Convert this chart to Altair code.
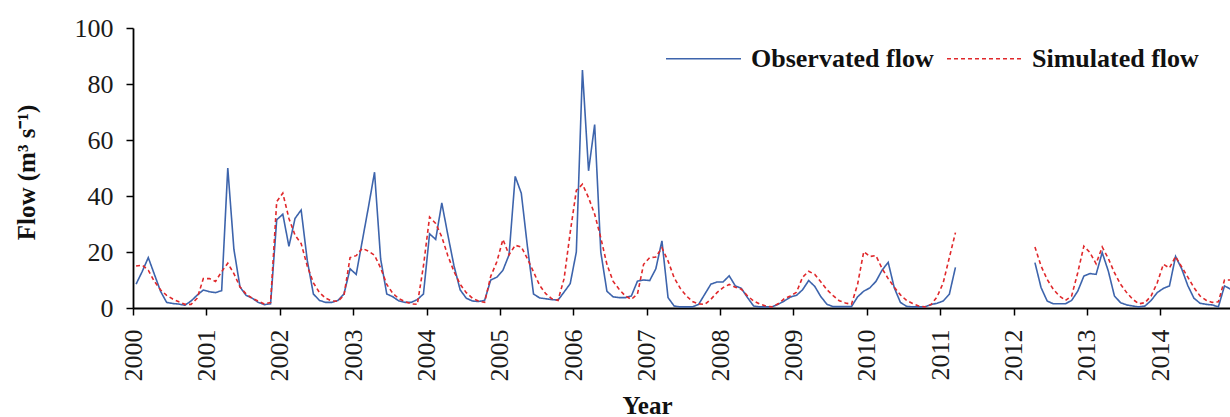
import altair as alt
import pandas as pd

# ---- data (monthly) ----
years = list(range(2000, 2015))
tick_years = years

obs_2000 = [8.5, 13, 18, 12, 6, 2, 1.6, 1.4, 1, 2.5, 4.6, 6.4]
obs_2001 = [5.8, 5.5, 6.2, 50, 21, 7.5, 4.5, 3.5, 2, 1.2, 1.5, 31.5]
obs_2002 = [33.5, 22, 32, 35, 17, 5, 2.7, 2, 2, 2.7, 5, 14]
obs_2003 = [12, 24, 36, 48.5, 17.5, 5, 4, 2.5, 2, 2, 3, 5]
obs_2004 = [26.5, 24.5, 37.5, 26, 15, 6.5, 3.5, 2.5, 2.3, 2.7, 10, 11]
obs_2005 = [13.5, 19, 47, 41, 22, 5, 3.6, 3.3, 3, 2.8, 5.7, 8.7]
obs_2006 = [20, 85, 49, 65.5, 20, 6, 4, 3.7, 3.7, 4.3, 9.6, 10]
obs_2007 = [9.8, 14, 24, 3.7, 0.7, 0.4, 0.4, 0.4, 1.3, 4.9, 8.5, 9.3]
obs_2008 = [9.3, 11.5, 7.9, 7, 3.7, 0.7, 0.4, 0.4, 0.4, 1.3, 2.5, 3.9]
obs_2009 = [4.5, 6.5, 9.8, 7.7, 4, 1.3, 0.5, 0.5, 0.5, 0.5, 4, 6]
obs_2010 = [7.2, 9.5, 13.5, 16.3, 7.2, 2, 0.6, 0.4, 0.4, 0.4, 1.2, 1.7]
obs_2011 = [2.5, 4.9, 14.5, None, None, None, None, None, None, None, None, None]
obs_2012 = [None, None, None, 16.2, 7.3, 2.5, 1.5, 1.5, 1.5, 2.7, 6, 11.4]
obs_2013 = [12.3, 12, 19.8, 13.2, 4.3, 1.9, 1.1, 0.7, 0.4, 0.7, 2.7, 5.5]
obs_2014 = [7, 7.9, 18.4, 14, 8, 3.5, 1.7, 1.3, 1.1, 0.4, 7.9, 6.7]

sim_2000 = [15, 15.3, 13.5, 9.5, 6.5, 4.5, 3.2, 2.2, 1.3, 1.3, 3.5, 10.5]
sim_2001 = [10.5, 9.5, 13, 16, 12.3, 7.5, 5, 3.5, 2.4, 1.4, 2, 38]
sim_2002 = [41, 32, 26, 23, 15, 9, 5.5, 3.5, 2.5, 2.4, 4.5, 18]
sim_2003 = [18.7, 21.3, 20.3, 18.8, 14.3, 8.4, 5.2, 3.3, 2.3, 1.5, 1.3, 15]
sim_2004 = [32.5, 30.2, 25.4, 18.6, 13, 8.5, 5.5, 3.5, 2.5, 2, 11.3, 16.5]
sim_2005 = [24.5, 19, 22.4, 21.8, 17.6, 12.9, 8.1, 5.1, 3.3, 2.7, 10.5, 27]
sim_2006 = [42, 44.2, 39.4, 33.5, 25.1, 15.6, 9.6, 6.7, 4.3, 3.1, 5, 15.6]
sim_2007 = [18, 18.2, 21.5, 16.8, 10.8, 7, 4.3, 2.3, 1.5, 1.3, 3.1, 5.5]
sim_2008 = [7.3, 8.4, 7.4, 6.7, 4.3, 2.5, 1.4, 0.7, 0.4, 1.5, 3.3, 4.3]
sim_2009 = [5.6, 11, 13.1, 12, 9.3, 6.5, 4.4, 2.6, 1.8, 1.3, 8.5, 20.1]
sim_2010 = [18.4, 18.7, 14.1, 10.5, 7.4, 4.7, 2.7, 1.6, 0.7, 0.4, 1.2, 4]
sim_2011 = [9, 18, 26.9, None, None, None, None, None, None, None, None, None]
sim_2012 = [None, None, None, 21.8, 15, 10.2, 6.7, 4.3, 2.7, 4.3, 12.6, 22.1]
sim_2013 = [19.8, 15.8, 21.8, 17.7, 12.6, 8.5, 5.5, 3.1, 1.5, 1.9, 4.3, 9]
sim_2014 = [15.6, 14.3, 18.4, 14.7, 11, 7.3, 4.3, 2.8, 2, 2.2, 10, 10]

observed = [obs_2000, obs_2001, obs_2002, obs_2003, obs_2004, obs_2005, obs_2006,
            obs_2007, obs_2008, obs_2009, obs_2010, obs_2011, obs_2012, obs_2013, obs_2014]
simulated = [sim_2000, sim_2001, sim_2002, sim_2003, sim_2004, sim_2005, sim_2006,
             sim_2007, sim_2008, sim_2009, sim_2010, sim_2011, sim_2012, sim_2013, sim_2014]

series_names = ["Observated flow", "Simulated flow"]

rows = []
for name, table in zip(series_names, [observed, simulated]):
    for yr, vals in zip(years, table):
        for m, v in enumerate(vals):
            if v is None:
                continue
            t = yr + (m + 0.5) / 12.0
            seg = 1 if t < 2011.5 else 2
            rows.append({"t": t, "flow": v, "series": name, "seg": seg})
df = pd.DataFrame(rows)

SERIF = "Liberation Serif"
BLUE = "#3D64AC"
RED = "#E0282B"

chart = alt.Chart(df).mark_line(strokeWidth=1.6, clip=True).encode(
    x=alt.X(
        "t:Q",
        scale=alt.Scale(domain=[2000, 2014.95], nice=False, zero=False),
        axis=alt.Axis(
            values=tick_years, format="d", labelAngle=270, title="Year",
            labelPadding=14, titleX=514, titleY=97, titleAlign="center",
            titleBaseline="middle",
        ),
    ),
    y=alt.Y(
        "flow:Q",
        scale=alt.Scale(domain=[0, 100], nice=False),
        axis=alt.Axis(
            values=[0, 20, 40, 60, 80, 100], title="Flow (m³ s⁻¹)",
            labelPadding=13, titleAngle=270, titleX=-107, titleY=144,
            titleAlign="center", titleBaseline="middle",
        ),
    ),
    color=alt.Color(
        "series:N",
        scale=alt.Scale(domain=series_names, range=[BLUE, RED]),
        legend=alt.Legend(
            title=None, orient="none", legendX=532, legendY=-8, direction="horizontal",
            symbolType="stroke", symbolSize=5625, symbolStrokeWidth=1.6,
            labelFont=SERIF, labelFontSize=26, labelFontWeight="bold",
            labelColor="#111111", labelOffset=9, columnPadding=9, padding=0,
            labelLimit=400,
        ),
    ),
    strokeDash=alt.StrokeDash(
        "series:N",
        scale=alt.Scale(domain=series_names, range=[[1, 0], [4, 3]]),
        legend=None,
    ),
    detail="seg:N",
).properties(
    width=1097,
    height=280,
    autosize=alt.AutoSizeParams(type="none"),
    padding={"left": 133, "top": 28, "right": 0, "bottom": 109},
).configure_view(
    strokeWidth=0
).configure_axis(
    grid=False,
    domainColor="#000000",
    domainWidth=1.8,
    tickColor="#000000",
    tickWidth=1.5,
    tickSize=7,
    labelFont=SERIF,
    labelFontSize=26,
    labelColor="#1a1a1a",
    titleFont=SERIF,
    titleFontSize=25,
    titleFontWeight="bold",
    titleColor="#111111",
)

chart.save("out.html", embed_options={"renderer": "svg", "actions": False})
